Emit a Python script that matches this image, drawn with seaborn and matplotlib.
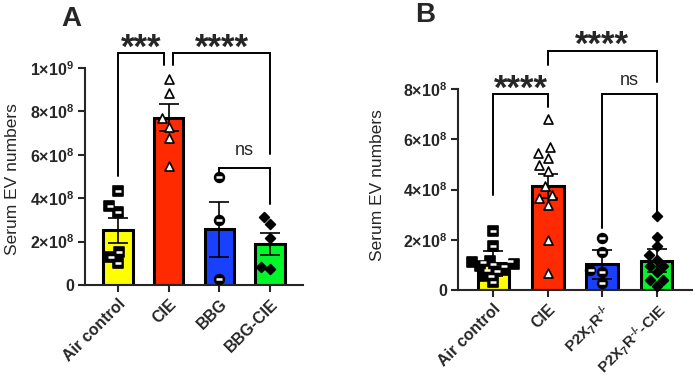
import matplotlib
matplotlib.use('Agg')
import matplotlib.pyplot as plt
import numpy as np
import pandas as pd
import seaborn as sns


# values in units of 1e8 EVs
GROUPS_A = ['Air control', 'CIE', 'BBG', 'BBG-CIE']
GROUPS_B = ['Air control', 'CIE', 'P2X$_7$R$^{\u2010/\u2010}$', 'P2X$_7$R$^{\u2010/\u2010}$-CIE']
BAR_COLORS = ['#FFFF00', '#FF2A00', '#1A40FF', '#00F52A']

mean_a = [2.52, 7.70, 2.56, 1.88]
sem_a = [0.58, 0.62, 1.25, 0.50]
points_a = {
    'Air control': [3.38, 4.35, 3.65, 1.53, 1.00, 1.30],
    'CIE': [9.49, 8.83, 7.68, 7.30, 6.76, 5.50],
    'BBG': [4.99, 3.00, 0.26],
    'BBG-CIE': [3.12, 2.81, 2.18, 0.72, 0.84],
}

mean_b = [1.06, 4.14, 1.02, 1.17]
sem_b = [0.50, 0.46, 0.58, 0.45]
points_b = {
    GROUPS_B[0]: [2.33, 1.75, 1.15, 1.10, 1.05, 0.95, 0.80, 0.75, 0.55, 0.30],
    GROUPS_B[1]: [6.80, 5.45, 4.98, 5.69, 5.27, 4.72, 4.12, 3.79, 3.39, 3.66, 1.99, 0.69],
    GROUPS_B[2]: [2.06, 1.53, 0.80, 0.73, 0.27],
    GROUPS_B[3]: [2.96, 2.10, 1.75, 1.40, 1.20, 0.95, 0.95, 0.70, 0.40, 0.40, 0.15],
}

yticks_a = [0, 2, 4, 6, 8, 10]
yticklabels_a = ['0', '2×10$^8$', '4×10$^8$', '6×10$^8$', '8×10$^8$', '1×10$^9$']
yticks_b = [0, 2, 4, 6, 8]
yticklabels_b = ['0', '2×10$^8$', '4×10$^8$', '6×10$^8$', '8×10$^8$']

# (x_left, x_right, y_top, y_left_end, y_right_end, text, text_y)
brackets_a = [(0.0, 0.91, 10.69, 5.02, 10.14, '***', 10.45),
              (1.09, 3.0, 10.69, 10.14, 6.04, '****', 10.45),
              (2.0, 3.0, 5.39, 5.21, 3.73, 'ns', 5.99)]
brackets_b = [(0.0, 1.0, 7.80, 3.79, 7.28, '****', 7.62),
              (1.0, 3.0, 9.53, 8.97, 8.27, '****', 9.37),
              (2.0, 3.0, 7.80, 2.47, 3.12, 'ns', 8.17)]

# marker per group position: (marker, face, size, white band)
MARKERS = [('s', 'black', 6.5, True),
           ('^', 'white', 6.5, False),
           ('o', 'black', 7.0, True),
           ('D', 'black', 5.0, False)]


sns.set_style('ticks')
plt.rcParams['font.family'] = ['Liberation Sans', 'DejaVu Sans']
plt.rcParams['mathtext.fontset'] = 'custom'
plt.rcParams['mathtext.rm'] = 'Liberation Sans:bold'
plt.rcParams['mathtext.bf'] = 'Liberation Sans:bold'
plt.rcParams['mathtext.it'] = 'Liberation Sans:bold'
plt.rcParams['mathtext.default'] = 'rm'


def draw_panel(ax, groups, means, sems, points, yticks, yticklabels, brackets):
    sns.barplot(x=groups, y=means, hue=groups, palette=BAR_COLORS, legend=False,
                order=groups, width=0.58, edgecolor='black', linewidth=2.2,
                saturation=1, errorbar=None, ax=ax)
    ax.errorbar(range(len(groups)), means, yerr=sems, fmt='none', ecolor='black',
                elinewidth=1.2, capsize=7, capthick=1.2, zorder=3)

    for i, g in enumerate(groups):
        marker, face, size, band = MARKERS[i]
        df = pd.DataFrame({'group': g, 'value': points[g]})
        n_before = len(ax.collections)
        sns.swarmplot(data=df, x='group', y='value', order=groups, marker=marker,
                      color=face, edgecolor='black', linewidth=1.2, size=size,
                      ax=ax, zorder=4, clip_on=False)
        if band:
            # white stripe across the swarm markers just drawn
            offs = np.vstack([c.get_offsets() for c in ax.collections[n_before:]
                              if len(c.get_offsets())])
            ax.scatter(offs[:, 0], offs[:, 1], marker='_', s=16, color='white',
                       linewidths=1.8, zorder=6, clip_on=False)

    for x1, x2, ytop, yl, yr, txt, ty in brackets:
        ax.plot([x1, x1, x2, x2], [yl, ytop, ytop, yr], color='black', lw=1.4,
                clip_on=False, solid_joinstyle='miter')
        if txt == 'ns':
            ax.text((x1 + x2) / 2, ty, txt, ha='center', va='baseline', fontsize=13)
        else:
            ax.text((x1 + x2) / 2, ty, txt, ha='center', va='baseline',
                    fontsize=25, fontweight='bold')

    ax.set_xlim(-0.65, 3.65)
    ax.set_ylim(0, yticks[-1])
    ax.set_yticks(yticks)
    ax.set_yticklabels(yticklabels, fontsize=11.5, fontweight='bold')
    ax.set_xticks(range(len(groups)))
    ax.set_xticklabels(groups, rotation=45, ha='right', rotation_mode='anchor',
                       fontsize=11.5, fontweight='bold')
    ax.set_xlabel('')
    ax.set_ylabel('Serum EV numbers', fontsize=12.5)
    ax.tick_params(axis='both', length=5, width=1.5, direction='out', pad=3)
    for s in ['left', 'bottom']:
        ax.spines[s].set_linewidth(1.5)
    sns.despine(ax=ax)


fig = plt.figure(figsize=(6.95, 3.79), dpi=100)
ax_a = fig.add_axes([85 / 695, 1 - 285 / 379, 218 / 695, 217 / 379])
ax_b = fig.add_axes([458 / 695, 1 - 290 / 379, 234 / 695, 201 / 379])

draw_panel(ax_a, GROUPS_A, mean_a, sem_a, points_a, yticks_a, yticklabels_a, brackets_a)
draw_panel(ax_b, GROUPS_B, mean_b, sem_b, points_b, yticks_b, yticklabels_b, brackets_b)
for lbl in ax_b.get_xticklabels()[2:]:
    lbl.set_fontsize(11)

ax_a.yaxis.set_label_coords(-0.30, 0.49)
ax_b.yaxis.set_label_coords(-0.31, 0.52)

fig.text(71 / 695, 1 - 19 / 379, 'A', ha='center', va='center', fontsize=20,
         fontweight='bold')
fig.text(425 / 695, 1 - 15 / 379, 'B', ha='center', va='center', fontsize=20,
         fontweight='bold')

fig.savefig('out.png', dpi=100)
